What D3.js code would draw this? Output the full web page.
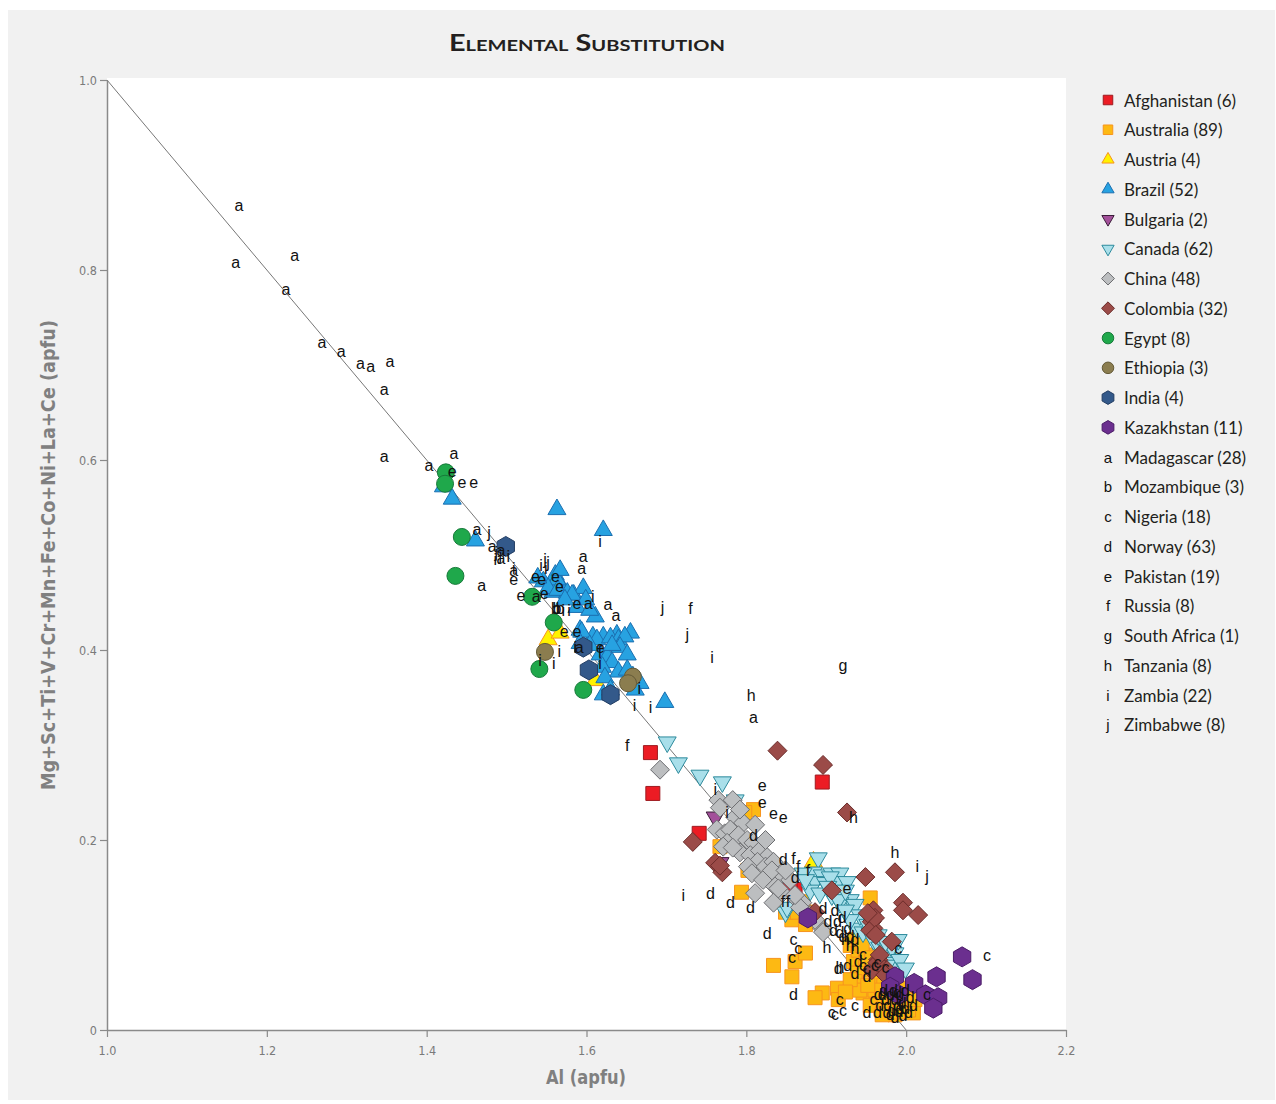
<html>
<head>
  <title>Elemental Substitution</title>
  <style>
    body { margin: 0; padding: 0; background: #ffffff; }
    svg text { font-family: "Lato", "Open Sans", sans-serif; }
    .tick text { font-family: "DejaVu Sans Condensed", "DejaVu Sans", sans-serif; font-size: 12.5px; fill: #7a7a7a; }
    .letter { font-family: "Liberation Sans", Arial, sans-serif; font-size: 16px; fill: #111; }
  </style>
  <script src="https://d3js.org/d3.v7.min.js"></script>
</head>
<body>
<div id="chart"></div>
<script>
  // values: [Al, Mg+Sc+Ti+V+Cr+Mn+Fe+Co+Ni+La+Ce] in apfu
  const afghanistan = [[1.680,0.292],[1.683,0.249],[1.895,0.261],[1.741,0.207],[1.861,0.148],[1.855,0.151]];
  const australia = [
    [1.809,0.232],[1.798,0.229],[1.767,0.193],[1.794,0.145],[1.857,0.116],[1.871,0.135],[1.834,0.068],[1.861,0.072],
    [1.874,0.081],[1.857,0.056],[1.895,0.039],[1.886,0.034],[1.914,0.044],[1.915,0.032],[1.934,0.072],[1.939,0.060],
    [1.936,0.051],[1.946,0.039],[1.955,0.139],[1.951,0.079],[1.942,0.042],[1.995,0.044],[2.005,0.026],[2.009,0.018],
    [1.930,0.089],[1.940,0.084],[1.949,0.074],[1.957,0.063],[1.965,0.055],[1.972,0.047],[1.980,0.040],[1.987,0.034],
    [1.995,0.026],[2.003,0.021],[1.967,0.032],[1.955,0.026],[1.974,0.021],[1.986,0.016],[1.961,0.042],[1.952,0.047],
    [1.999,0.037],[2.011,0.032],[1.986,0.026],[1.970,0.016],[1.977,0.074],[1.930,0.053],[1.924,0.040],[1.967,0.084],
    [1.867,0.132],[1.849,0.124],[1.864,0.124],[1.874,0.111],[1.880,0.124],[1.802,0.168],[1.992,0.019],[1.936,0.095],
    [1.945,0.089],[1.957,0.076],[1.980,0.053]
  ];
  const austria = [[1.552,0.411],[1.567,0.418],[1.611,0.368],[1.884,0.177]];
  const brazil = [
    [1.421,0.572],[1.432,0.559],[1.563,0.548],[1.621,0.526],[1.461,0.515],[1.561,0.479],[1.569,0.466],[1.558,0.461],
    [1.576,0.460],[1.584,0.458],[1.596,0.465],[1.588,0.445],[1.611,0.435],[1.592,0.421],[1.621,0.414],[1.638,0.416],
    [1.655,0.418],[1.608,0.414],[1.563,0.474],[1.546,0.472],[1.552,0.465],[1.539,0.476],[1.564,0.463],[1.582,0.458],
    [1.604,0.442],[1.594,0.419],[1.613,0.411],[1.630,0.413],[1.640,0.411],[1.648,0.414],[1.642,0.403],[1.651,0.395],
    [1.617,0.395],[1.626,0.393],[1.632,0.387],[1.620,0.382],[1.640,0.377],[1.651,0.379],[1.658,0.372],[1.623,0.371],
    [1.667,0.365],[1.621,0.353],[1.698,0.345],[1.592,0.407],[1.604,0.405],[1.573,0.453],[1.599,0.453],[1.632,0.405],
    [1.661,0.358],[1.567,0.484],[1.630,0.358]
  ];
  const bulgaria = [[1.761,0.224],[1.767,0.176]];
  const canada = [
    [1.701,0.303],[1.715,0.281],[1.742,0.268],[1.770,0.261],[1.786,0.242],[1.890,0.181],[1.884,0.166],[1.895,0.163],
    [1.907,0.165],[1.917,0.165],[1.886,0.156],[1.899,0.155],[1.914,0.156],[1.926,0.156],[1.880,0.147],[1.892,0.144],
    [1.907,0.142],[1.920,0.140],[1.930,0.137],[1.917,0.134],[1.849,0.124],[1.939,0.107],[1.946,0.103],[1.955,0.102],
    [1.959,0.095],[1.967,0.087],[1.977,0.084],[1.986,0.081],[1.976,0.076],[1.984,0.071],[1.990,0.095],[1.982,0.087],
    [1.976,0.068],[1.871,0.165],[1.905,0.161],[1.915,0.137],[1.851,0.129],[1.874,0.158],[1.902,0.151],[1.924,0.147],
    [1.936,0.132],[1.942,0.121],[1.930,0.116],[1.924,0.126],[1.952,0.111],[1.965,0.100],[1.974,0.093],[1.992,0.074],
    [1.999,0.065]
  ];
  const china = [
    [1.692,0.274],[1.765,0.242],[1.783,0.242],[1.767,0.234],[1.786,0.224],[1.796,0.218],[1.763,0.211],[1.773,0.207],
    [1.780,0.211],[1.790,0.205],[1.801,0.200],[1.809,0.197],[1.776,0.197],[1.792,0.187],[1.805,0.184],[1.817,0.189],
    [1.826,0.182],[1.814,0.177],[1.802,0.172],[1.824,0.172],[1.834,0.177],[1.807,0.165],[1.830,0.165],[1.839,0.160],
    [1.821,0.158],[1.836,0.151],[1.845,0.144],[1.811,0.144],[1.834,0.134],[1.864,0.137],[1.870,0.134],[1.771,0.193],
    [1.783,0.192],[1.832,0.168],[1.840,0.149],[1.867,0.129],[1.895,0.107],[1.896,0.103],[1.855,0.158],[1.849,0.168],
    [1.880,0.121],[1.792,0.232],[1.811,0.216],[1.824,0.200],[1.861,0.142],[1.886,0.116]
  ];
  const colombia = [
    [1.839,0.294],[1.896,0.279],[1.926,0.229],[1.733,0.198],[1.761,0.176],[1.770,0.166],[1.949,0.161],[1.907,0.147],
    [1.986,0.166],[1.886,0.124],[1.996,0.134],[1.996,0.126],[2.015,0.121],[1.957,0.121],[1.957,0.114],[1.959,0.107],
    [1.959,0.126],[1.982,0.093],[1.965,0.074],[1.970,0.066],[1.957,0.063],[1.964,0.071],[1.976,0.063],[1.955,0.105],
    [1.961,0.118],[1.767,0.173],[1.952,0.123],[1.962,0.100],[1.967,0.079],[1.974,0.058]
  ];
  const egypt = [[1.424,0.587],[1.423,0.575],[1.444,0.519],[1.436,0.478],[1.532,0.456],[1.559,0.429],[1.541,0.380],[1.596,0.358]];
  const ethiopia = [[1.548,0.398],[1.658,0.372],[1.652,0.365]];
  const india = [[1.499,0.509],[1.596,0.403],[1.603,0.379],[1.630,0.353]];
  const kazakhstan = [[2.070,0.077],[2.083,0.053],[2.038,0.056],[2.010,0.049],[1.986,0.056],[1.877,0.118],[2.024,0.037],
    [2.040,0.034],[2.034,0.023],[1.980,0.045],[1.991,0.037]];
  const madagascar = [
    [1.165,0.868],[1.161,0.808],[1.235,0.815],[1.224,0.780],[1.269,0.724],[1.293,0.714],[1.317,0.702],[1.330,0.698],
    [1.354,0.704],[1.347,0.674],[1.347,0.604],[1.403,0.594],[1.434,0.607],[1.463,0.527],[1.469,0.468],[1.482,0.509],
    [1.493,0.505],[1.493,0.496],[1.509,0.484],[1.596,0.498],[1.594,0.486],[1.602,0.449],[1.627,0.448],[1.637,0.436],
    [1.537,0.456],[1.591,0.403],[1.809,0.329]
  ];
  const mozambique = [[1.561,0.444],[1.563,0.444],[1.567,0.444]];
  const nigeria = [
    [1.859,0.095],[1.865,0.086],[1.857,0.076],[1.917,0.032],[1.907,0.018],[1.911,0.016],[1.921,0.021],[1.936,0.026],
    [1.946,0.079],[1.946,0.068],[1.951,0.065],[1.964,0.071],[1.974,0.066],[1.959,0.032],[1.990,0.086],[1.961,0.068],
    [2.026,0.037],[2.101,0.078]
  ];
  const norway = [
    [1.846,0.179],[1.861,0.161],[1.755,0.144],[1.780,0.134],[1.805,0.129],[1.826,0.102],[1.896,0.128],[1.911,0.126],
    [1.902,0.114],[1.914,0.114],[1.920,0.118],[1.909,0.105],[1.917,0.103],[1.921,0.098],[1.927,0.107],[1.930,0.098],
    [1.936,0.095],[1.927,0.068],[1.940,0.072],[1.936,0.060],[1.951,0.056],[1.859,0.037],[1.951,0.018],[1.964,0.018],
    [1.809,0.205],[1.915,0.065],[1.970,0.037],[1.974,0.032],[1.977,0.026],[1.980,0.037],[1.982,0.021],[1.986,0.032],
    [1.989,0.026],[1.991,0.019],[1.992,0.037],[1.995,0.028],[1.999,0.023],[2.003,0.018],[2.005,0.034],[1.976,0.018],
    [1.967,0.026],[1.972,0.042],[1.984,0.042],[1.996,0.015],[1.986,0.013],[2.009,0.026],[1.965,0.037],[1.980,0.016],
    [1.989,0.039],[1.999,0.042],[1.992,0.023]
  ];
  const pakistan = [
    [1.432,0.588],[1.444,0.576],[1.459,0.576],[1.509,0.474],[1.518,0.457],[1.536,0.477],[1.544,0.474],[1.561,0.477],
    [1.566,0.467],[1.547,0.460],[1.588,0.449],[1.572,0.419],[1.588,0.419],[1.617,0.403],[1.820,0.257],[1.820,0.240],
    [1.834,0.228],[1.846,0.224],[1.926,0.149]
  ];
  const russia = [[1.730,0.444],[1.617,0.398],[1.651,0.300],[1.859,0.181],[1.865,0.172],[1.877,0.168],[1.846,0.135],[1.852,0.135]];
  const southAfrica = [[1.921,0.384]];
  const tanzania = [[1.806,0.352],[1.934,0.224],[1.986,0.187],[1.901,0.087],[1.917,0.066],[1.930,0.089],[1.924,0.095],[1.936,0.086]];
  const zambia = [
    [1.617,0.514],[1.502,0.498],[1.509,0.486],[1.549,0.486],[1.543,0.489],[1.571,0.442],[1.578,0.442],[1.608,0.456],
    [1.566,0.398],[1.559,0.386],[1.542,0.389],[1.586,0.403],[1.617,0.386],[1.666,0.360],[1.660,0.342],[1.680,0.339],
    [1.757,0.392],[1.761,0.253],[1.776,0.229],[1.721,0.142],[2.014,0.172],[1.486,0.495]
  ];
  const zimbabwe = [[1.478,0.524],[1.487,0.503],[1.552,0.492],[1.695,0.445],[1.726,0.416],[2.026,0.162],[1.492,0.500],[1.548,0.495]];

  const countries = ["Afghanistan","Australia","Austria","Brazil","Bulgaria","Canada","China","Colombia","Egypt","Ethiopia",
    "India","Kazakhstan","Madagascar","Mozambique","Nigeria","Norway","Pakistan","Russia","South Africa","Tanzania","Zambia","Zimbabwe"];
  const counts = [6,89,4,52,2,62,48,32,8,3,4,11,28,3,18,63,19,8,1,8,22,8];
  const seriesData = [afghanistan,australia,austria,brazil,bulgaria,canada,china,colombia,egypt,ethiopia,
    india,kazakhstan,madagascar,mozambique,nigeria,norway,pakistan,russia,southAfrica,tanzania,zambia,zimbabwe];
  const xTicks = [1.0,1.2,1.4,1.6,1.8,2.0,2.2];
  const yTicks = [0,0.2,0.4,0.6,0.8,1.0];

  // marker look per country
  const styles = [
    {shape:"square", fill:"#ec1c24", stroke:"#9e1b20"},
    {shape:"square", fill:"#fdb913", stroke:"#f7941d"},
    {shape:"triUp", fill:"#fff200", stroke:"#f7941d"},
    {shape:"triUp", fill:"#27a2e1", stroke:"#1b6fb0"},
    {shape:"triDown", fill:"#a3509a", stroke:"#3a1d38"},
    {shape:"triDown", fill:"#a9dfea", stroke:"#2c8a9c"},
    {shape:"diamond", fill:"#bcbec0", stroke:"#6d6e71"},
    {shape:"diamond", fill:"#9b4b48", stroke:"#6b2c2a"},
    {shape:"circle", fill:"#1fa84b", stroke:"#177a3a"},
    {shape:"circle", fill:"#8b7d4f", stroke:"#645a37"},
    {shape:"hex", fill:"#33598a", stroke:"#223d63"},
    {shape:"hex", fill:"#6b2f8f", stroke:"#4b1c68"},
    {shape:"letter", ch:"a"},{shape:"letter", ch:"b"},{shape:"letter", ch:"c"},{shape:"letter", ch:"d"},
    {shape:"letter", ch:"e"},{shape:"letter", ch:"f"},{shape:"letter", ch:"g"},{shape:"letter", ch:"h"},
    {shape:"letter", ch:"i"},{shape:"letter", ch:"j"}
  ];

  function shapePath(shape, s) {
    if (shape === "square") return `M${-7*s},${-7*s}h${14*s}v${14*s}h${-14*s}z`;
    if (shape === "triUp") return `M0,${-10.4*s}L${9*s},${5.2*s}L${-9*s},${5.2*s}z`;
    if (shape === "triDown") return `M0,${10.4*s}L${9*s},${-5.2*s}L${-9*s},${-5.2*s}z`;
    if (shape === "diamond") return `M0,${-9.5*s}L${9.5*s},0L0,${9.5*s}L${-9.5*s},0z`;
    if (shape === "hex") {
      const pts = d3.range(6).map(i => {
        const a = (-90 + 60 * i) * Math.PI / 180;
        return [Math.cos(a) * 10 * s, Math.sin(a) * 10 * s];
      });
      return "M" + pts.map(p => p.join(",")).join("L") + "z";
    }
    return d3.symbol(d3.symbolCircle, Math.PI * 8.5 * 8.5 * s * s)();
  }

  const width = 1276, height = 1104;
  const svg = d3.select("#chart").append("svg").attr("width", width).attr("height", height);

  svg.append("rect").attr("x", 8).attr("y", 10).attr("width", 1267).attr("height", 1090).attr("fill", "#f1f1f1");

  const x = d3.scaleLinear().domain([1.0, 2.2]).range([107, 1066]);
  const y = d3.scaleLinear().domain([0, 1.0]).range([1030, 80]);

  svg.append("rect").attr("x", 107).attr("y", 78).attr("width", 959).attr("height", 952).attr("fill", "#ffffff");

  svg.append("text")
    .attr("x", 587).attr("y", 51)
    .attr("text-anchor", "middle")
    .style("font-variant", "small-caps")
    .style("font-weight", "bold")
    .style("font-size", "23px")
    .attr("fill", "#231f20")
    .attr("textLength", 276).attr("lengthAdjust", "spacingAndGlyphs")
    .text("Elemental Substitution");

  // 1:1 substitution line
  svg.append("line")
    .attr("x1", x(1.0)).attr("y1", y(1.0))
    .attr("x2", x(2.0)).attr("y2", y(0))
    .attr("stroke", "#777").attr("stroke-width", 1);

  const xAxis = svg.append("g").attr("transform", "translate(0,1030)")
    .call(d3.axisBottom(x).tickValues(xTicks).tickSize(7).tickSizeOuter(0).tickFormat(d3.format(".1f")));
  const yAxis = svg.append("g").attr("transform", "translate(107,0)")
    .call(d3.axisLeft(y).tickValues(yTicks).tickSize(7).tickSizeOuter(0).tickFormat(d => d === 0 ? "0" : d3.format(".1f")(d)));
  [xAxis, yAxis].forEach(a => {
    a.select(".domain").attr("stroke", "#8a8a8a").attr("stroke-width", 1.5);
    a.selectAll(".tick line").attr("stroke", "#8a8a8a").attr("stroke-width", 1.2);
  });
  xAxis.selectAll(".tick text").attr("dy", "1.2em");

  svg.append("text")
    .attr("x", 586).attr("y", 1084)
    .attr("text-anchor", "middle")
    .style("font-family", "'DejaVu Sans Condensed', 'DejaVu Sans', sans-serif")
    .style("font-weight", "bold").style("font-size", "19px")
    .attr("fill", "#808080")
    .attr("textLength", 80).attr("lengthAdjust", "spacingAndGlyphs")
    .text("Al (apfu)");

  svg.append("text")
    .attr("transform", "translate(55,555) rotate(-90)")
    .attr("text-anchor", "middle")
    .style("font-family", "'DejaVu Sans Condensed', 'DejaVu Sans', sans-serif")
    .style("font-weight", "bold").style("font-size", "19px")
    .attr("fill", "#808080")
    .attr("textLength", 470).attr("lengthAdjust", "spacingAndGlyphs")
    .text("Mg+Sc+Ti+V+Cr+Mn+Fe+Co+Ni+La+Ce (apfu)");

  // markers first, letters on top
  const plot = svg.append("g");
  seriesData.forEach((data, i) => {
    const st = styles[i];
    if (st.shape === "letter") return;
    plot.selectAll(null).data(data).enter().append("path")
      .attr("d", shapePath(st.shape, 1))
      .attr("transform", d => `translate(${x(d[0])},${y(d[1])})`)
      .attr("fill", st.fill).attr("stroke", st.stroke).attr("stroke-width", 1);
  });
  seriesData.forEach((data, i) => {
    const st = styles[i];
    if (st.shape !== "letter") return;
    plot.selectAll(null).data(data).enter().append("text")
      .attr("class", "letter")
      .attr("x", d => x(d[0])).attr("y", d => y(d[1]))
      .attr("text-anchor", "middle").attr("dominant-baseline", "central")
      .text(st.ch);
  });

  // legend
  const legend = svg.append("g").attr("transform", "translate(1108,100)");
  countries.forEach((c, i) => {
    const st = styles[i];
    const row = legend.append("g").attr("transform", `translate(0,${i * 29.76})`);
    if (st.shape === "letter") {
      row.append("text").attr("class", "letter").style("font-size", "15px")
        .attr("text-anchor", "middle").attr("dominant-baseline", "central").text(st.ch);
    } else {
      row.append("path").attr("d", shapePath(st.shape, 0.68))
        .attr("fill", st.fill).attr("stroke", st.stroke).attr("stroke-width", 1);
    }
    row.append("text").attr("x", 16).attr("dominant-baseline", "central")
      .style("font-size", "17px").attr("fill", "#231f20")
      .text(`${c} (${counts[i]})`);
  });
</script>
</body>
</html>
